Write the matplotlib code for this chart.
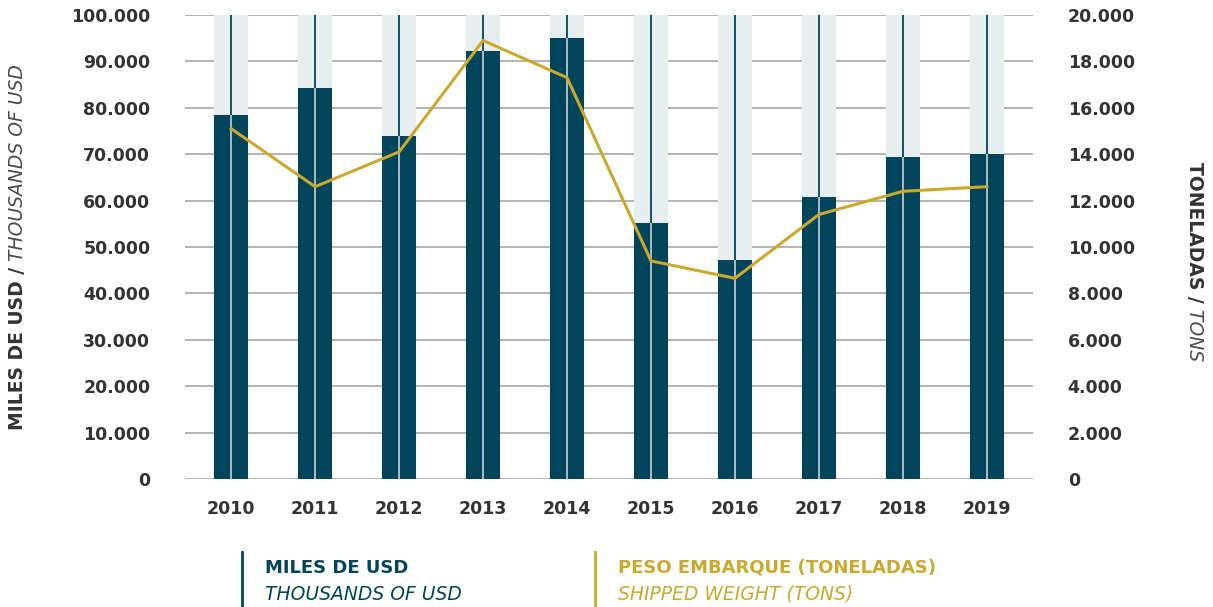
import numpy as np
import matplotlib.pyplot as plt
from matplotlib.lines import Line2D

plt.rcParams['font.family'] = ['DejaVu Sans']

# Exportaciones anuales: valor (miles de USD) y peso embarcado (toneladas)
years = ['2010', '2011', '2012', '2013', '2014', '2015', '2016', '2017', '2018', '2019']
usd = [78400, 84300, 73900, 92200, 95000, 55200, 47200, 60800, 69400, 70000]
tons = [15100, 12600, 14100, 18900, 17300, 9400, 8650, 11400, 12400, 12600]
usd_max = 100000
tons_max = 20000

dark = '#02445a'
light = '#e6eef0'
gold = '#c9aa2e'
grey_txt = '#333333'
grey_light = '#4a4a4a'


def miles(v, pos=None):
    return f'{v:,.0f}'.replace(',', '.')


fig = plt.figure(figsize=(12.13, 6.07), dpi=100)
ax = fig.add_axes([0.1525, 0.2109, 0.6991, 0.7644])
x = np.arange(len(years))

# barras de fondo hasta el máximo y barras con el valor
ax.bar(x, [usd_max] * len(x), width=0.4, color=light, zorder=2)
ax.bar(x, usd, width=0.4, color=dark, zorder=3)
ax.vlines(x, 0, usd, color='#b8c6cb', lw=1.3, zorder=4)
ax.vlines(x, usd, usd_max, color=dark, lw=1.3, zorder=4)

ax.set_xlim(-0.55, 9.55)
ax.set_ylim(0, usd_max)
ax.set_yticks(np.arange(0, usd_max + 1, 10000))
ax.yaxis.set_major_formatter(plt.FuncFormatter(miles))
ax.set_xticks(x)
ax.set_xticklabels(years)
ax.grid(axis='y', color='#a8a8a8', lw=1.2)
ax.set_axisbelow(True)
ax.tick_params(axis='y', length=0, pad=25, labelsize=12.5, labelcolor=grey_txt)
ax.tick_params(axis='x', length=0, pad=15, labelsize=12.5, labelcolor=grey_txt)
for lab in ax.get_xticklabels() + ax.get_yticklabels():
    lab.set_fontweight('bold')
for s in ax.spines.values():
    s.set_visible(False)

# eje derecho: toneladas
ax2 = ax.twinx()
ax2.plot(x, tons, color=gold, lw=2.2, zorder=5)
ax2.set_ylim(0, tons_max)
ax2.set_yticks(np.arange(0, tons_max + 1, 2000))
ax2.yaxis.set_major_formatter(plt.FuncFormatter(miles))
ax2.tick_params(axis='y', length=0, pad=25, labelsize=12.5, labelcolor=grey_txt)
for lab in ax2.get_yticklabels():
    lab.set_fontweight('bold')
for s in ax2.spines.values():
    s.set_visible(False)

# títulos de los ejes (parte en negrita + parte en cursiva)
t1 = fig.text(0.0148, 0.2916, 'MILES DE USD /', rotation=90, ha='center', va='bottom',
              fontsize=13.5, fontweight='bold', color=grey_txt)
ax.annotate(' THOUSANDS OF USD', xy=(0.5, 1), xycoords=t1, rotation=90, ha='center',
            va='bottom', fontsize=13.5, style='italic', color=grey_light,
            annotation_clip=False)

t2 = fig.text(0.985, 0.733, 'TONELADAS /', rotation=-90, ha='center', va='top',
              fontsize=13.5, fontweight='bold', color=grey_txt)
ax.annotate(' TONS', xy=(0.5, 0), xycoords=t2, rotation=-90, ha='center', va='top',
            fontsize=13.5, style='italic', color=grey_light, annotation_clip=False)

# leyenda
fig.add_artist(Line2D([0.1995, 0.1995], [0.0, 0.0906], color=dark, lw=2))
fig.text(0.2185, 0.0643, 'MILES DE USD', fontsize=13, fontweight='bold', color=dark, va='center')
fig.text(0.2185, 0.0214, 'THOUSANDS OF USD', fontsize=13.5, style='italic',
         color=dark, va='center')
fig.add_artist(Line2D([0.4905, 0.4905], [0.0, 0.0906], color=gold, lw=2))
fig.text(0.5095, 0.0643, 'PESO EMBARQUE (TONELADAS)', fontsize=13, fontweight='bold',
         color=gold, va='center')
fig.text(0.5095, 0.0214, 'SHIPPED WEIGHT (TONS)', fontsize=13.5, style='italic',
         color=gold, va='center')

fig.savefig('out.png', dpi=100)
